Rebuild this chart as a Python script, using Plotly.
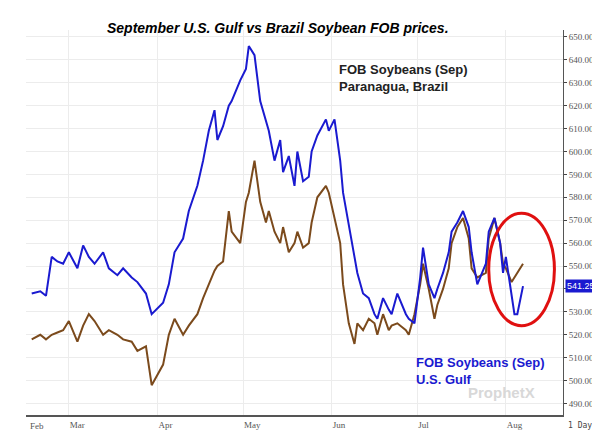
import pandas as pd
import plotly.graph_objects as go

start = pd.Timestamp("2023-02-16")
day_offsets = [0, 3, 5, 7, 9, 11, 13, 15, 17, 19, 21, 24, 26, 29, 31, 34, 36, 39, 41, 44,
               46, 48, 51, 53, 56, 58, 60, 62, 63, 65, 67, 68, 70, 72, 73, 75, 77, 79, 80, 82,
               84, 85, 87, 89, 90, 92, 94, 95, 97, 99, 100, 102, 104, 105, 107, 109, 110, 112, 114, 116,
               117, 119, 121, 122, 124, 126, 127, 129, 131, 132, 134, 136, 137, 139, 141, 142, 144, 146, 148, 149,
               151, 153, 154, 156, 158, 159, 160, 162, 163, 164, 166]
paranagua = [538, 539, 537, 554, 552, 551, 556, 549, 559, 554, 551, 556, 549, 546, 549, 545, 543, 538, 529, 534,
             542, 556, 562, 574, 585, 596, 609, 618, 605, 611, 620, 622, 631, 636, 646, 642, 622, 614, 609, 596,
             605, 591, 598, 585, 600, 587, 589, 600, 607, 614, 609, 614, 596, 582, 567, 554, 547, 538, 536, 529,
             527, 536, 531, 529, 538, 529, 527, 525, 545, 558, 542, 536, 540, 547, 556, 565, 569, 574, 567, 556,
             542, 551, 565, 571, 560, 547, 554, 538, 529, 529, 541.25]
us_gulf = [518, 520, 518, 520, 521, 522, 526, 517, 524, 529, 526, 520, 522, 520, 518, 517, 513, 515, 498, 507,
           520, 527, 520, 524, 529, 536, 542, 548, 550, 552, 574, 565, 560, 578, 582, 596, 578, 569, 574, 565,
           560, 567, 556, 560, 565, 558, 560, 569, 580, 585, 582, 571, 560, 542, 525, 516, 525, 522, 527, 525,
           520, 529, 522, 524, 525, 522, 520, 529, 542, 551, 540, 527, 533, 540, 549, 560, 567, 571, 562, 549,
           545, 547, 562, 571, 560, 551, 549, 543, 545, 547, 551]
month_ticks = ["2023-03-01", "2023-04-01", "2023-05-01", "2023-06-01", "2023-07-01", "2023-08-01"]
month_labels = ["Mar", "Apr", "May", "Jun", "Jul", "Aug"]

# offsets were read on a slightly compressed scale; stretch to calendar days
dates = [start + pd.Timedelta(days=round(d * 1.036)) for d in day_offsets]

fig = go.Figure()
fig.add_trace(go.Scatter(x=dates, y=us_gulf, mode="lines", line=dict(color="#7b4a1c", width=2), name="U.S. Gulf"))
fig.add_trace(go.Scatter(x=dates, y=paranagua, mode="lines", line=dict(color="#1a1ad0", width=2), name="Paranagua"))

fig.add_shape(type="circle", xref="x", yref="y",
              x0="2023-07-26", x1="2023-08-18", y0=524, y1=573,
              line=dict(color="#e01010", width=3))

fig.add_annotation(x=0.47, y=1.0, xref="paper", yref="paper", yshift=12, showarrow=False,
                   text="<b><i>September U.S. Gulf vs Brazil Soybean FOB prices.</i></b>",
                   font=dict(size=14, color="black", family="Liberation Sans"))
fig.add_annotation(x="2023-06-03", y=632, xanchor="left", showarrow=False, align="left",
                   text="<b>FOB Soybeans (Sep)<br>Paranagua, Brazil</b>",
                   font=dict(size=13, color="#222222", family="Liberation Sans"))
fig.add_annotation(x="2023-06-30", y=504, xanchor="left", showarrow=False, align="left",
                   text="<b>FOB Soybeans (Sep)<br>U.S. Gulf</b>",
                   font=dict(size=13, color="#1a1ad0", family="Liberation Sans"))
fig.add_annotation(x="2023-07-18", y=495, xanchor="left", showarrow=False,
                   text="<b>ProphetX</b>", font=dict(size=15, color="#d8d8d8", family="Liberation Sans"))
fig.add_annotation(x=1.0, xref="paper", y=paranagua[-1], xanchor="left", showarrow=False,
                   text="541.25", bgcolor="#1a1ad0", xshift=2,
                   font=dict(size=9, color="white", family="Liberation Sans"))
fig.add_annotation(x=1.0, xref="paper", y=0, yref="paper", yanchor="top", xanchor="left", yshift=-4, xshift=3,
                   showarrow=False, text="1 Day", font=dict(size=8, color="#444444", family="DejaVu Sans Mono"))

fig.update_layout(
    width=600, height=435,
    margin=dict(l=18, r=45, t=22, b=28),
    plot_bgcolor="white", paper_bgcolor="white",
    showlegend=False,
    xaxis=dict(range=["2023-02-14", "2023-08-21"], tickvals=month_ticks, ticktext=month_labels,
               ticklabelposition="outside right", showgrid=True, gridcolor="#ececec",
               showline=True, linecolor="#555555", linewidth=2,
               tickfont=dict(size=9, color="#555555", family="Liberation Sans Narrow")),
    yaxis=dict(side="right", range=[485, 653], dtick=10, tickformat=".2f",
               showgrid=True, gridcolor="#ececec", showline=True, linecolor="#555555",
               ticks="outside", ticklen=3, zeroline=False,
               tickfont=dict(size=9, color="#555555", family="Liberation Sans Narrow")),
)
fig.add_annotation(x=0, xref="paper", y=0, yref="paper", yanchor="top", xanchor="left", yshift=-4, xshift=2,
                   showarrow=False, text="Feb", font=dict(size=9, color="#555555", family="Liberation Sans Narrow"))

fig.write_html("out.html")
